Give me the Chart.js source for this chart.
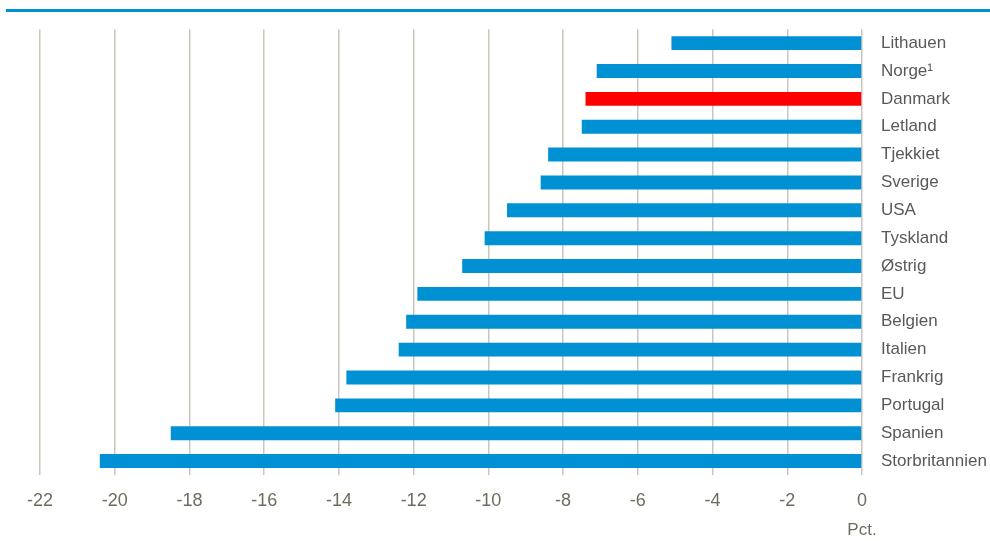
<!DOCTYPE html>
<html>
<head>
<meta charset="utf-8">
<script src="https://cdn.jsdelivr.net/npm/chart.js@4"></script>
<style>
  html, body { margin: 0; padding: 0; background: #fff; }
  #wrap { width: 990px; height: 541px; position: relative; }
</style>
</head>
<body>
<div id="wrap"><canvas id="chart"></canvas></div>
<script>
const countries = ['Lithauen', 'Norge¹', 'Danmark', 'Letland', 'Tjekkiet', 'Sverige', 'USA', 'Tyskland',
  'Østrig', 'EU', 'Belgien', 'Italien', 'Frankrig', 'Portugal', 'Spanien', 'Storbritannien'];
const values = [-5.1, -7.1, -7.4, -7.5, -8.4, -8.6, -9.5, -10.1, -10.7, -11.9, -12.2, -12.4, -13.8, -14.1, -18.5, -20.4];
const highlight = 'Danmark';
const xTicks = [-22, -20, -18, -16, -14, -12, -10, -8, -6, -4, -2, 0];
const unitLabel = 'Pct.';

const FONT = '"Liberation Sans Narrow", "Arial Narrow", "Liberation Sans", Arial, sans-serif';

// blue rule at the top + unit label under the zero tick
const decor = {
  id: 'decor',
  afterDraw(chart) {
    const ctx = chart.ctx;
    ctx.save();
    ctx.fillStyle = '#0091d5';
    ctx.fillRect(6, 9, 984, 3);
    const x0 = chart.scales.x.getPixelForValue(0);
    ctx.fillStyle = '#6e6c5c';
    ctx.font = '17px ' + FONT;
    ctx.textAlign = 'center';
    ctx.textBaseline = 'middle';
    ctx.fillText(unitLabel, x0, 530);
    ctx.restore();
  }
};

new Chart(document.getElementById('chart'), {
  type: 'bar',
  data: {
    labels: countries,
    datasets: [{
      data: values,
      backgroundColor: countries.map(c => c === highlight ? '#ff0000' : '#0091d5'),
      barPercentage: 0.5,
      categoryPercentage: 1.0
    }]
  },
  options: {
    indexAxis: 'y',
    responsive: true,
    maintainAspectRatio: false,
    animation: false,
    layout: { padding: { top: 23, left: 40, right: 0, bottom: 0 } },
    plugins: { legend: { display: false }, tooltip: { enabled: false } },
    scales: {
      x: {
        min: -22,
        max: 0,
        afterBuildTicks: s => { s.ticks = xTicks.map(v => ({ value: v })); },
        afterFit: s => { s.height = 66; },
        grid: { color: '#c9c7bc', lineWidth: 1.5, drawTicks: false },
        border: { display: false },
        ticks: { color: '#6e6c5c', font: { family: FONT, size: 18 }, padding: 15, maxRotation: 0 }
      },
      y: {
        position: 'right',
        afterFit: s => { s.width = 128; },
        grid: { display: false, drawTicks: false },
        border: { display: false },
        ticks: { color: '#595959', font: { family: FONT, size: 17 }, padding: 19 }
      }
    }
  },
  plugins: [decor]
});
</script>
</body>
</html>
